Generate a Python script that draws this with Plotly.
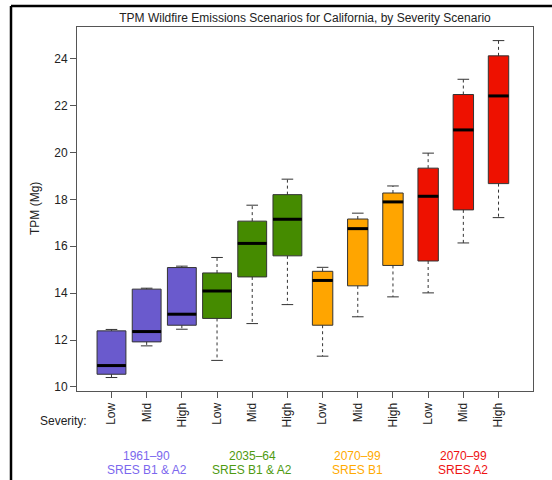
import plotly.graph_objects as go

# ---- data ----
severity = ["Low", "Mid", "High"] * 4
group_period = ["1961\u201390", "2035\u201364", "2070\u201399", "2070\u201399"]
group_scen = ["SRES B1 & A2", "SRES B1 & A2", "SRES B1", "SRES A2"]
lower = [10.40, 11.75, 12.46, 11.13, 12.70, 13.51, 11.31, 12.99, 13.84, 14.01, 16.14, 17.22]
q1 = [10.54, 11.92, 12.63, 12.92, 14.69, 15.59, 12.63, 14.31, 15.18, 15.37, 17.55, 18.67]
median = [10.91, 12.36, 13.10, 14.09, 16.12, 17.15, 14.54, 16.75, 17.89, 18.13, 20.96, 22.41]
q3 = [12.39, 14.17, 15.09, 14.86, 17.07, 18.20, 14.93, 17.16, 18.27, 19.33, 22.47, 24.12]
upper = [12.45, 14.21, 15.15, 15.52, 17.75, 18.86, 15.10, 17.41, 18.57, 19.97, 23.12, 24.77]
y_ticks = [10, 12, 14, 16, 18, 20, 22, 24]

# ---- style ----
group_colors = ["#6A5ACD", "#458B00", "#FFA500", "#EE1100"]
text_colors = ["#7B68EE", "#4E9A10", "#FFAA00", "#EE1111"]
group_widths = [0.82, 0.82, 0.58, 0.58]
cap_w = 0.33
FONT = "Liberation Sans, Arial, Helvetica, sans-serif"
EDGE = "#333333"

W, H = 552, 480
L, R, T, B = 77, 19, 27, 89

fig = go.Figure()
pos = list(range(1, len(median) + 1))

wx, wy, cx, cy, mx, my = [], [], [], [], [], []
for i, p in enumerate(pos):
    g = i // 3
    bw = group_widths[g]
    fig.add_trace(go.Box(
        x=[p], q1=[q1[i]], median=[median[i]], q3=[q3[i]],
        lowerfence=[q1[i]], upperfence=[q3[i]],
        width=bw, whiskerwidth=0,
        fillcolor=group_colors[g],
        line=dict(color=EDGE, width=1),
        boxpoints=False, showlegend=False, hoverinfo="skip",
    ))
    # whiskers
    wx += [p, p, None, p, p, None]
    wy += [q3[i], upper[i], None, q1[i], lower[i], None]
    # caps
    cx += [p - cap_w / 2, p + cap_w / 2, None, p - cap_w / 2, p + cap_w / 2, None]
    cy += [upper[i], upper[i], None, lower[i], lower[i], None]
    # median
    mx += [p - bw / 2, p + bw / 2, None]
    my += [median[i], median[i], None]

fig.add_trace(go.Scatter(x=wx, y=wy, mode="lines", line=dict(color=EDGE, width=1, dash="3px,3px"),
                         showlegend=False, hoverinfo="skip"))
fig.add_trace(go.Scatter(x=cx, y=cy, mode="lines", line=dict(color=EDGE, width=1),
                         showlegend=False, hoverinfo="skip"))
fig.add_trace(go.Scatter(x=mx, y=my, mode="lines", line=dict(color="#000000", width=3),
                         showlegend=False, hoverinfo="skip"))

fig.update_layout(
    width=W, height=H,
    margin=dict(l=L, r=R, t=T, b=B, autoexpand=False),
    paper_bgcolor="white", plot_bgcolor="white",
    font=dict(family=FONT, size=12, color="#222222"),
    title=dict(text="TPM Wildfire Emissions Scenarios for California, by Severity Scenario",
               x=0.5, xref="paper", xanchor="center", y=1 - 18 / H, yanchor="middle",
               font=dict(family=FONT, size=12, color="#222222")),
    xaxis=dict(range=[0.02, 12.98], tickvals=pos, ticktext=severity, tickangle=-90,
               ticks="outside", ticklen=6, tickcolor="#555555", showgrid=False, zeroline=False,
               showline=True, linecolor="#555555", linewidth=1, mirror=True,
               tickfont=dict(size=12, color="#222222")),
    yaxis=dict(range=[9.825, 25.35], tickvals=y_ticks, ticks="outside", ticklen=6,
               tickcolor="#555555", showgrid=False, zeroline=False,
               showline=True, linecolor="#555555", linewidth=1, mirror=True,
               tickfont=dict(size=12, color="#222222")),
)

ph = H - T - B
pw = W - L - R

def py(pix):
    return (H - B - pix) / ph

def pxp(pix):
    return (pix - L) / pw

anns = [
    dict(text="TPM (Mg)", xref="paper", yref="paper", x=pxp(35), y=0.5, textangle=-90,
         showarrow=False, xanchor="center", yanchor="middle", font=dict(size=12, color="#222222")),
    dict(text="Severity:", xref="paper", yref="paper", x=pxp(89), y=py(421),
         showarrow=False, xanchor="right", yanchor="middle", font=dict(size=12, color="#222222")),
]
for g in range(4):
    center = pos[g * 3 + 1]
    anns.append(dict(text=group_period[g], xref="x", yref="paper", x=center, y=py(456),
                     showarrow=False, xanchor="center", yanchor="middle",
                     font=dict(size=12, color=text_colors[g])))
    anns.append(dict(text=group_scen[g], xref="x", yref="paper", x=center, y=py(470),
                     showarrow=False, xanchor="center", yanchor="middle",
                     font=dict(size=12, color=text_colors[g])))
fig.update_layout(annotations=anns)

# outer border of the original figure frame (partially visible)
fig.add_shape(type="line", xref="paper", yref="paper", x0=pxp(11), x1=pxp(11),
              y0=py(6), y1=py(H + 10), line=dict(color="black", width=2.5))
fig.add_shape(type="line", xref="paper", yref="paper", x0=pxp(11), x1=pxp(W + 10),
              y0=py(6), y1=py(6), line=dict(color="black", width=2.5))

fig.write_html("out.html")
